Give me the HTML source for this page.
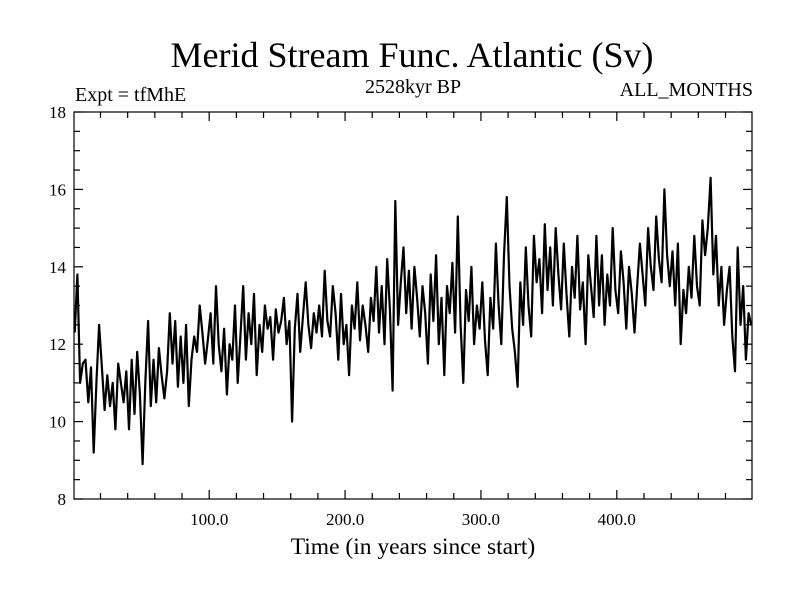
<!DOCTYPE html>
<html><head><meta charset="utf-8"><style>
html,body{margin:0;padding:0;background:#fff;}
svg{display:block;font-family:"Liberation Serif",serif;}
</style></head><body>
<svg width="800" height="600" xmlns="http://www.w3.org/2000/svg">
<text x="412" y="67" font-size="36" text-anchor="middle">Merid Stream Func. Atlantic (Sv)</text>
<text x="75" y="101" font-size="20">Expt = tfMhE</text>
<text x="413" y="93" font-size="20" text-anchor="middle">2528kyr BP</text>
<text x="753" y="96" font-size="20" text-anchor="end">ALL_MONTHS</text>
<text x="413" y="554" font-size="23.5" text-anchor="middle">Time (in years since start)</text>
<g id="axes"></g>
<polyline id="series" fill="none" stroke="#000" stroke-width="2.2" stroke-linejoin="round"/>
<rect x="74" y="112" width="678" height="387" fill="none" stroke="#000" stroke-width="1.2"/>
</svg>
<script>
const startYear = 1;
const stepYears = 2;
const values = [
12.3,13.8,11.0,11.5,11.6,10.5,11.4,9.2,11.0,12.5,
11.4,10.3,11.2,10.4,11.0,9.8,11.5,11.0,10.5,11.3,
9.8,11.6,10.2,11.8,10.7,8.9,11.0,12.6,10.4,11.6,
10.5,11.9,11.2,10.6,11.3,12.8,11.5,12.6,10.9,12.2,
11.0,12.5,10.4,11.6,12.2,11.8,13.0,12.3,11.5,12.1,
12.8,11.5,13.5,12.0,11.3,12.4,10.7,12.0,11.6,13.0,
11.0,12.2,13.5,11.6,12.8,12.0,13.3,11.2,12.5,11.8,
13.0,12.4,12.7,11.6,12.9,12.3,12.6,13.2,12.0,12.6,
10.0,12.4,13.3,11.8,12.7,13.6,12.5,11.9,12.8,12.3,
13.0,12.2,13.9,12.6,12.2,13.5,12.8,11.6,13.3,12.0,
12.5,11.2,13.0,12.4,13.6,12.1,13.0,12.5,11.8,13.2,
12.6,14.0,12.3,13.5,12.0,14.2,12.9,10.8,15.7,12.5,
13.6,14.5,12.8,13.9,12.4,14.0,13.2,12.2,13.5,12.8,
11.5,13.8,12.6,14.3,12.0,13.2,11.2,13.5,12.8,14.1,
12.3,15.3,12.5,11.0,13.4,12.6,14.0,12.0,13.0,12.4,
13.6,12.1,11.2,13.2,12.4,14.6,13.0,12.0,14.3,15.8,
13.5,12.4,11.8,10.9,13.6,12.5,14.5,13.0,12.2,14.8,
13.6,14.2,12.8,15.1,13.4,14.5,13.0,15.0,13.8,12.9,
14.6,13.3,12.2,14.0,13.2,14.8,12.9,13.6,12.0,14.3,
13.5,12.7,14.8,13.0,14.3,12.5,13.8,13.0,15.0,13.4,
12.8,14.4,13.6,12.4,14.0,13.3,12.3,13.5,14.6,13.8,
13.0,15.0,14.0,13.4,15.3,14.2,13.6,16.0,14.3,13.5,
14.4,13.0,14.6,12.0,13.4,12.8,14.0,13.2,14.8,13.5,
13.0,15.2,14.3,15.0,16.3,13.8,14.8,13.0,14.0,12.5,
13.4,14.0,12.2,11.3,14.5,12.5,13.5,11.6,12.8,12.5
];
const xTickLabels = ["100.0","200.0","300.0","400.0"];
const xTickValues = [100,200,300,400];
const yTickValues = [8,10,12,14,16,18];

const L=74,R=752,T=112,B=499;
const X0=0.5,X1=499.5,Y0=8,Y1=18;
function xs(v){return L+(v-X0)/(X1-X0)*(R-L);}
function ys(v){return B-(v-Y0)/(Y1-Y0)*(B-T);}
const NS="http://www.w3.org/2000/svg";
const axes=document.getElementById('axes');
function line(x1,y1,x2,y2,name){
  const l=document.createElementNS(NS,'line');
  l.setAttribute('x1',x1);l.setAttribute('y1',y1);l.setAttribute('x2',x2);l.setAttribute('y2',y2);
  l.setAttribute('stroke','#000');l.setAttribute('stroke-width','1.2');
  
  
  axes.appendChild(l);
}
function text(x,y,s,anchor,name){
  const t=document.createElementNS(NS,'text');
  t.setAttribute('x',x);t.setAttribute('y',y);t.setAttribute('font-size','17');
  t.setAttribute('text-anchor',anchor);t.textContent=s;
  
  
  axes.appendChild(t);
}
for(let v=20;v<500;v+=20){
  const major=v%100===0;const len=major?9:6;const x=xs(v);
  line(x,B,x,B-len,'x-tick');line(x,T,x,T+len,'x-tick-top');
}
xTickValues.forEach((v,i)=>text(xs(v),525,xTickLabels[i],'middle','x-tick-label'));
for(let v=8;v<=18.001;v+=0.5){
  const major=Math.abs(v/2-Math.round(v/2))<1e-6;const len=major?9:6;const y=ys(v);
  line(L,y,L+len,y,'y-tick');line(R,y,R-len,y,'y-tick-right');
}
yTickValues.forEach(v=>text(L-8,ys(v)+6,String(v),'end','y-tick-label'));
const pts=values.map((v,i)=>xs(startYear+i*stepYears).toFixed(1)+','+ys(v).toFixed(1)).join(' ');
document.getElementById('series').setAttribute('points',pts);
</script>
</body></html>
